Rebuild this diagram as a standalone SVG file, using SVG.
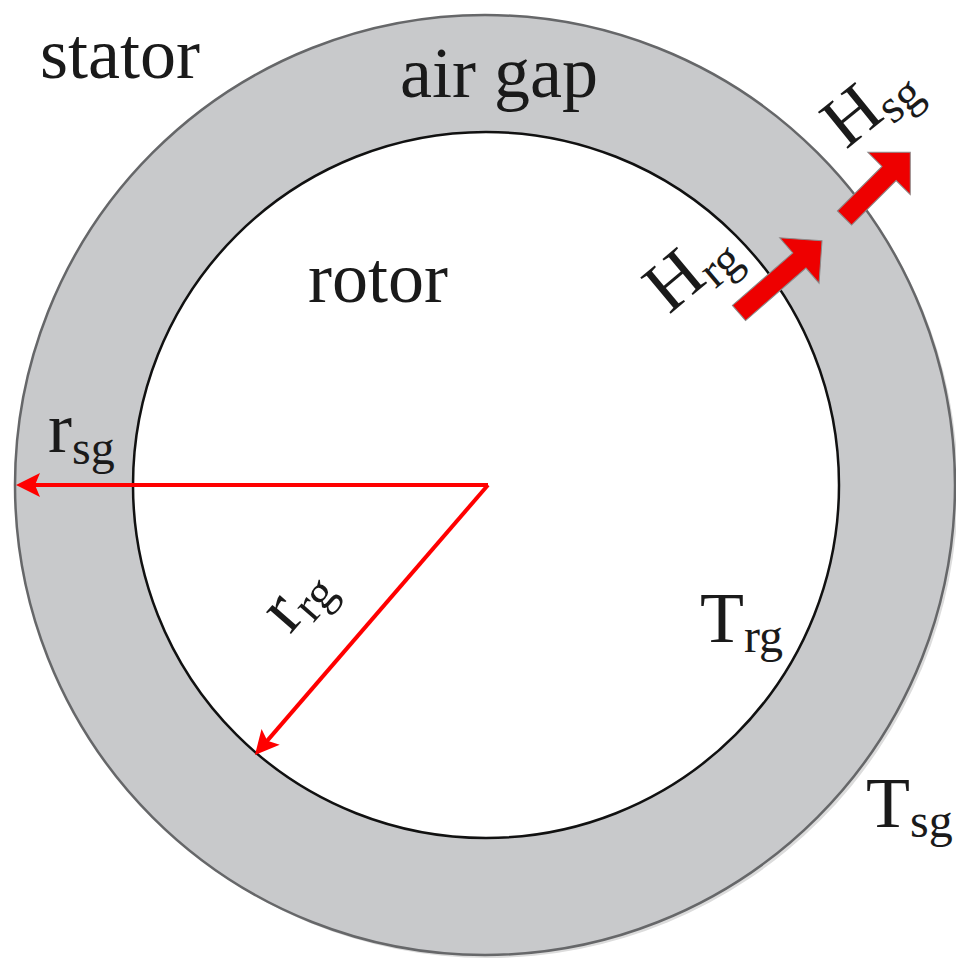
<svg xmlns="http://www.w3.org/2000/svg" width="956" height="959" viewBox="0 0 956 959">
<style>
.t{font-family:"Liberation Serif","Times New Roman",serif;font-size:72px;fill:#1a1a1a}
.s{font-size:48px}
.rl{stroke:#ff0000;stroke-width:4;fill:none}
.blk{fill:#ee0000;stroke:#8a8a8a;stroke-width:1}
</style>
<defs>
<marker id="ah" markerUnits="userSpaceOnUse" markerWidth="30" markerHeight="30" viewBox="-10 -14 30 28" refX="0" refY="0" orient="auto">
<path d="M16,0 L-8,-12 L-3,0 L-8,12 Z" fill="#ff0000"/>
</marker>
</defs>
<g id="stator">
<circle cx="488" cy="488" r="470" fill="#dcdcdc"/>
<circle cx="485" cy="485" r="470" fill="#c8c9cb" stroke="#666769" stroke-width="2.5"/>
</g>
<g id="rotor">
<circle cx="486" cy="485" r="353" fill="#ffffff" stroke="#111111" stroke-width="2.5"/>
</g>
<g id="connectors">
<path class="rl" d="M488,485 L32,485" marker-end="url(#ah)"/>
<path class="rl" d="M488,485 L265.4,742.9" marker-end="url(#ah)"/>
<g id="arrow-Hrg" transform="translate(739,313) rotate(-41)">
<polygon class="blk" points="0,-10 80,-10 80,-30 110,0 80,30 80,10 0,10"/>
</g>
<g id="arrow-Hsg" transform="translate(844.5,218) rotate(-45)">
<polygon class="blk" points="0,-10 63,-10 63,-30 93,0 63,30 63,10 0,10"/>
</g>
</g>
<g id="labels">
<text class="t" x="40" y="78">stator</text>
<text class="t" x="400" y="97">air gap</text>
<text class="t" x="308" y="302">rotor</text>
<text class="t" x="48" y="452">r<tspan class="s" dy="12">sg</tspan></text>
<text class="t" x="700" y="642">T<tspan class="s" dy="10">rg</tspan></text>
<text class="t" x="866" y="827">T<tspan class="s" dy="10">sg</tspan></text>
<text class="t" transform="translate(290,635) rotate(-49)">r<tspan class="s" dy="10">rg</tspan></text>
<text class="t" transform="translate(669,315) rotate(-40)">H<tspan class="s" dy="10">rg</tspan></text>
<text class="t" transform="translate(846,150) rotate(-39)">H<tspan class="s" dy="10">sg</tspan></text>
</g>
</svg>
